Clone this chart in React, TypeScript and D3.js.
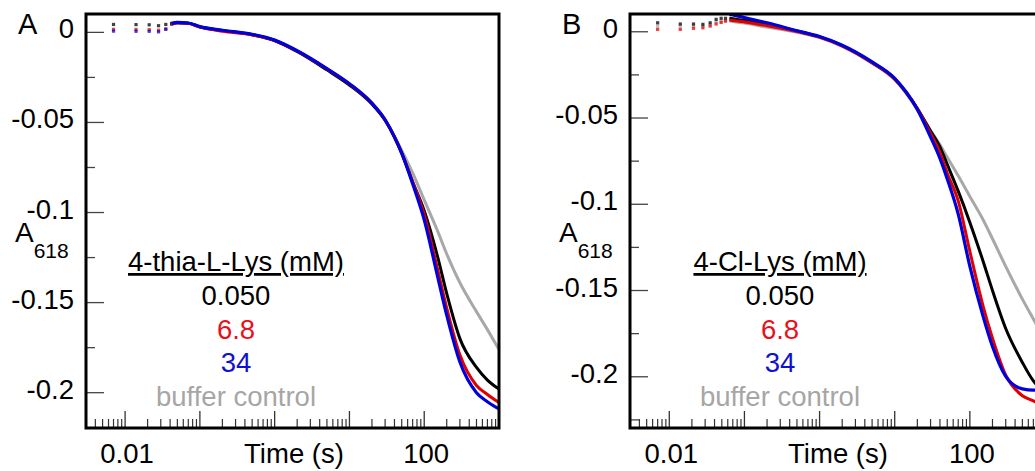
import React from "react";
import * as d3 from "d3";

// ---------- data ----------
const yTickValues = [0, -0.05, -0.1, -0.15, -0.2];
const yTickLabels = ["0", "-0.05", "-0.1", "-0.15", "-0.2"];
const xLabelValues = [0.01, 100];
const xLabelTexts = ["0.01", "100"];

const legendLabels = ["0.050", "6.8", "34", "buffer control"];

// Panel A (4-thia-L-Lys)
const tA_dots = [0.007, 0.014, 0.021, 0.028, 0.035, 0.042];
const blackA_dots = [0.0044, 0.0043, 0.0042, 0.0037, 0.0044, 0.0047];
const redA_dots = [0.0017, 0.0016, 0.0015, 0.0012, 0.0018, 0.0046];
const blueA_dots = [0.0007, 0.0006, 0.0006, 0.0003, 0.0018, 0.005];

const tA = [0.042, 0.05, 0.07, 0.1, 0.2, 0.5, 1, 2, 5, 10, 20, 30, 40, 50, 70, 100, 150, 200, 300, 500, 700, 1000];
const grayA = [0.0045, 0.0052, 0.005, 0.003, 0.001, -0.0013, -0.0045, -0.0106, -0.0208, -0.0292, -0.0398, -0.0488, -0.0578, -0.0655, -0.078, -0.093, -0.11, -0.123, -0.139, -0.155, -0.165, -0.176];
const blackA = [0.0047, 0.0054, 0.0051, 0.0031, 0.001, -0.0013, -0.0045, -0.0106, -0.0208, -0.0292, -0.0398, -0.0488, -0.0582, -0.067, -0.083, -0.099, -0.124, -0.145, -0.17, -0.186, -0.193, -0.198];
const redA = [0.0046, 0.0053, 0.005, 0.0029, 0.0006, -0.0014, -0.0045, -0.0104, -0.0203, -0.0287, -0.0394, -0.0486, -0.058, -0.067, -0.083, -0.101, -0.131, -0.153, -0.179, -0.196, -0.201, -0.2055];
const blueA = [0.005, 0.0055, 0.0052, 0.0032, 0.0012, -0.0011, -0.0043, -0.0102, -0.0201, -0.0285, -0.0393, -0.0485, -0.058, -0.067, -0.084, -0.104, -0.135, -0.157, -0.183, -0.2, -0.205, -0.209];

// Panel B (4-Cl-Lys)
const tB_dots = [0.007, 0.014, 0.021, 0.028, 0.035, 0.042, 0.049, 0.056];
const grayB_dots = [0.0033, 0.0033, 0.0034, 0.0033, 0.004, 0.0058, 0.0062, 0.0064];
const blackB_dots = [0.0052, 0.0045, 0.0045, 0.0043, 0.0052, 0.0072, 0.0078, 0.0078];
const redB_dots = [0.0014, 0.0014, 0.002, 0.0023, 0.0033, 0.0045, 0.0054, 0.0062];

const tB = [0.063, 0.07, 0.1, 0.2, 0.5, 1, 2, 5, 10, 20, 30, 40, 50, 70, 100, 150, 200, 300, 500, 700, 1000];
const grayB = [0.0064, 0.006, 0.005, 0.0027, -0.0003, -0.0034, -0.0085, -0.0182, -0.0278, -0.045, -0.0572, -0.0655, -0.0728, -0.0835, -0.0955, -0.109, -0.12, -0.136, -0.155, -0.1665, -0.1785];
const blackB = [0.0078, 0.0075, 0.0065, 0.0045, 0.0004, -0.003, -0.008, -0.0178, -0.0272, -0.0445, -0.0575, -0.0667, -0.0769, -0.0924, -0.1105, -0.133, -0.15, -0.172, -0.1917, -0.2024, -0.209];
const redB = [0.0068, 0.0066, 0.0057, 0.0035, 0.0002, -0.0031, -0.0082, -0.018, -0.0275, -0.0445, -0.059, -0.07, -0.082, -0.098, -0.1273, -0.159, -0.1776, -0.199, -0.211, -0.214, -0.218];
const blueB = [0.0101, 0.0098, 0.0082, 0.0052, 0.0006, -0.0028, -0.0078, -0.0175, -0.027, -0.045, -0.061, -0.0734, -0.0853, -0.1057, -0.136, -0.165, -0.1825, -0.1998, -0.207, -0.2077, -0.2075];

// ---------- style ----------
const COLORS = { black: "#000000", red: "#e00000", blue: "#0000d8", gray: "#a8a8a8" };
const LEGEND_COLORS = ["#000000", "#e8101a", "#1010d0", "#a6a6a6"];
const FONT = "'Liberation Sans', Arial, sans-serif";
const FS = 27.5;

type Series = { color: string; t: number[]; v: number[]; width: number };
type DotSeries = { color: string; t: number[]; v: number[] };

type PanelProps = {
  id: string;
  letter: string;
  title: string;
  left: number;
  right: number;
  top: number;
  bottom: number;
  yDomain: [number, number];
  series: Series[];
  dots: DotSeries[];
};

function Panel(p: PanelProps) {
  const x = d3.scaleLog().domain([0.003, 1000]).range([p.left, p.right]);
  const y = d3.scaleLinear().domain(p.yDomain).range([p.bottom, p.top]);

  const line = d3
    .line<[number, number]>()
    .x((d) => x(d[0]))
    .y((d) => y(d[1]))
    .curve(d3.curveMonotoneX);

  const yMinor = d3.range(-0.225, 0.01, 0.05).filter((v) => v >= p.yDomain[0] && v <= p.yDomain[1]);
  const xMajor = [0.01, 0.1, 1, 10, 100, 1000];
  const xMinor: number[] = [];
  for (let e = -3; e <= 2; e++) {
    for (let k = 2; k <= 9; k++) {
      const v = k * Math.pow(10, e);
      if (v >= 0.003 && v <= 1000) xMinor.push(v);
    }
  }

  const clipId = `clip-${p.id}`;
  const legendX = p.left + 150;
  const legendY = [305, 339, 372, 406];

  return (
    <g>
      <defs>
        <clipPath id={clipId}>
          <rect x={p.left} y={p.top} width={p.right - p.left} height={p.bottom - p.top} />
        </clipPath>
      </defs>

      {/* ticks */}
      {yTickValues.map((v) => (
        <line key={"ym" + v} x1={p.left} x2={p.left + 18} y1={y(v)} y2={y(v)} stroke="#444" strokeWidth={1.3} />
      ))}
      {yMinor.map((v) => (
        <line key={"yn" + v} x1={p.left} x2={p.left + 9} y1={y(v)} y2={y(v)} stroke="#444" strokeWidth={1.3} />
      ))}
      {xMajor.map((v) => (
        <line key={"xm" + v} x1={x(v)} x2={x(v)} y1={p.bottom} y2={p.bottom - 17} stroke="#333" strokeWidth={1.3} />
      ))}
      {xMinor.map((v) => (
        <line key={"xn" + v} x1={x(v)} x2={x(v)} y1={p.bottom} y2={p.bottom - 9} stroke="#333" strokeWidth={1.2} />
      ))}

      {/* data */}
      <g clipPath={`url(#${clipId})`}>
        {p.dots.map((s, i) =>
          s.t.map((t, j) => (
            <rect
              key={`d${i}-${j}`}
              x={x(t) - 1.6}
              y={y(s.v[j]) - 1.6}
              width={3.2}
              height={3.2}
              fill={s.color}
              fillOpacity={0.75}
            />
          ))
        )}
        {p.series.map((s, i) => (
          <path
            key={"s" + i}
            d={line(s.t.map((t, j) => [t, s.v[j]] as [number, number])) || ""}
            fill="none"
            stroke={s.color}
            strokeWidth={s.width}
            strokeLinejoin="round"
          />
        ))}
      </g>

      {/* frame */}
      <rect x={p.left} y={p.top} width={p.right - p.left} height={p.bottom - p.top} fill="none" stroke="#000" strokeWidth={3} />

      {/* y labels */}
      {yTickValues.map((v, i) => (
        <text key={"yl" + v} x={p.left - 12} y={y(v) + 6} textAnchor="end" fontSize={FS} fontFamily={FONT} fill="#000">
          {yTickLabels[i]}
        </text>
      ))}
      {/* x labels */}
      {xLabelValues.map((v, i) => (
        <text key={"xl" + v} x={x(v) + 2} y={463} textAnchor="middle" fontSize={FS} fontFamily={FONT} fill="#000">
          {xLabelTexts[i]}
        </text>
      ))}
      <text x={p.left + 208} y={463} textAnchor="middle" fontSize={FS} fontFamily={FONT} fill="#000">
        Time (s)
      </text>

      {/* panel letter */}
      <text x={p.left - 68} y={34} fontSize={29} fontFamily={FONT} fill="#000">
        {p.letter}
      </text>

      {/* y axis title */}
      <text x={p.left - 71} y={242} fontSize={28} fontFamily={FONT} fill="#000">
        A
        <tspan dy={16} fontSize={21}>618</tspan>
      </text>

      {/* legend */}
      <text
        x={legendX}
        y={271}
        textAnchor="middle"
        fontSize={FS}
        fontFamily={FONT}
        fill="#000"
        style={{ textDecoration: "underline" }}
      >
        {p.title}
      </text>
      {legendLabels.map((l, i) => (
        <text key={"lg" + i} x={legendX} y={legendY[i]} textAnchor="middle" fontSize={FS} fontFamily={FONT} fill={LEGEND_COLORS[i]}>
          {l}
        </text>
      ))}
    </g>
  );
}

export default function App() {
  const seriesA: Series[] = [
    { color: COLORS.gray, t: tA, v: grayA, width: 3 },
    { color: COLORS.black, t: tA, v: blackA, width: 3 },
    { color: COLORS.red, t: tA, v: redA, width: 3 },
    { color: COLORS.blue, t: tA, v: blueA, width: 3.2 },
  ];
  const dotsA: DotSeries[] = [
    { color: COLORS.black, t: tA_dots, v: blackA_dots },
    { color: COLORS.red, t: tA_dots, v: redA_dots },
    { color: COLORS.blue, t: tA_dots, v: blueA_dots },
  ];
  const seriesB: Series[] = [
    { color: COLORS.gray, t: tB, v: grayB, width: 3 },
    { color: COLORS.black, t: tB, v: blackB, width: 3 },
    { color: COLORS.red, t: tB, v: redB, width: 3 },
    { color: COLORS.blue, t: tB, v: blueB, width: 3.2 },
  ];
  const dotsB: DotSeries[] = [
    { color: COLORS.gray, t: tB_dots, v: grayB_dots },
    { color: COLORS.black, t: tB_dots, v: blackB_dots },
    { color: COLORS.red, t: tB_dots, v: redB_dots },
  ];

  return (
    <svg
      width={1035}
      height={471}
      style={{ position: "absolute", left: 0, top: 0, background: "#fff" }}
    >
      <rect x={0} y={0} width={1035} height={471} fill="#fff" />
      <Panel
        id="A"
        letter="A"
        title="4-thia-L-Lys (mM)"
        left={86}
        right={499}
        top={14}
        bottom={428}
        yDomain={[-0.2196, 0.0102]}
        series={seriesA}
        dots={dotsA}
      />
      <Panel
        id="B"
        letter="B"
        title="4-Cl-Lys (mM)"
        left={630}
        right={1045}
        top={14}
        bottom={428}
        yDomain={[-0.2297, 0.0103]}
        series={seriesB}
        dots={dotsB}
      />
    </svg>
  );
}
